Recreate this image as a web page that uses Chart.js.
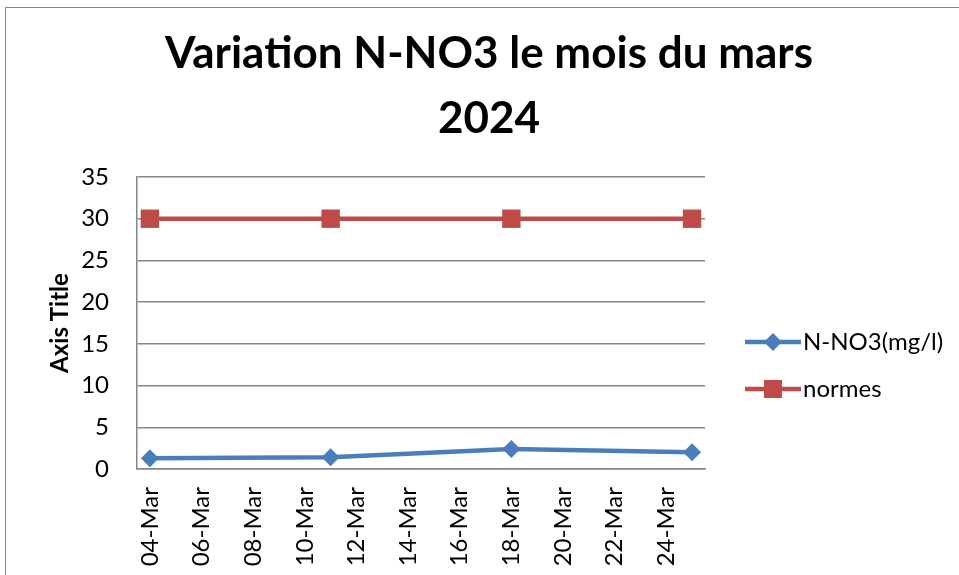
<!DOCTYPE html>
<html>
<head>
<meta charset="utf-8">
<script src="https://cdn.jsdelivr.net/npm/chart.js@4.4.1/dist/chart.umd.min.js"></script>
<style>
    body { margin: 0; background: #fff; }
    #frame { position: absolute; left: 5px; top: 7px; width: 1000px; height: 600px; border: 1px solid #868686; }
    #chart { position: absolute; left: 0; top: 0; }
</style>
</head>
<body>
<div id="frame"></div>
<canvas id="chart" width="959" height="575"></canvas>
<script>
// days of March 2024
const days = [4, 11, 18, 25];
const nno3 = [1.3, 1.4, 2.4, 2.0];
const normes = [30, 30, 30, 30];
const tickDays = [4, 6, 8, 10, 12, 14, 16, 18, 20, 22, 24];
const tickLabels = ['04-Mar', '06-Mar', '08-Mar', '10-Mar', '12-Mar', '14-Mar', '16-Mar', '18-Mar', '20-Mar', '22-Mar', '24-Mar'];
const titleLines = ['Variation N-NO3 le mois du mars', '2024'];

const FONT = 'Lato, "Open Sans", sans-serif';
const GRID = '#868686';

// title centred on the whole picture, as in the Excel chart
const bigTitle = {
    id: 'bigTitle',
    afterDraw(chart) {
        const ctx = chart.ctx;
        ctx.save();
        ctx.fillStyle = '#000';
        ctx.font = 'bold 44px ' + FONT;
        ctx.textAlign = 'center';
        ctx.textBaseline = 'alphabetic';
        ctx.fillText(titleLines[0], 489, 68);
        ctx.fillText(titleLines[1], 489, 133);
        ctx.restore();
    }
};

// legend drawn on the right, line with marker like Excel
const sideLegend = {
    id: 'sideLegend',
    afterDraw(chart) {
        const ctx = chart.ctx;
        const x0 = 745, len = 56;
        const ys = [342, 389];
        chart.data.datasets.forEach((ds, i) => {
            const y = ys[i];
            ctx.save();
            ctx.strokeStyle = ds.borderColor;
            ctx.fillStyle = ds.borderColor;
            ctx.lineWidth = ds.borderWidth;
            ctx.beginPath();
            ctx.moveTo(x0, y);
            ctx.lineTo(x0 + len, y);
            ctx.stroke();
            const cx = x0 + len / 2;
            ctx.beginPath();
            if (ds.pointStyle === 'rect') {
                ctx.rect(cx - 9, y - 9, 18, 18);
            } else {
                ctx.moveTo(cx - 9, y);
                ctx.lineTo(cx, y - 9);
                ctx.lineTo(cx + 9, y);
                ctx.lineTo(cx, y + 9);
                ctx.closePath();
            }
            ctx.fill();
            ctx.fillStyle = '#000';
            ctx.font = '24px ' + FONT;
            ctx.textBaseline = 'middle';
            ctx.fillText(ds.label, x0 + len + 2, y);
            ctx.restore();
        });
    }
};

new Chart(document.getElementById('chart'), {
    type: 'line',
    data: {
        datasets: [
            {
                label: 'N-NO3(mg/l)',
                data: days.map((d, i) => ({ x: d, y: nno3[i] })),
                borderColor: '#4a7ebb',
                backgroundColor: '#4a7ebb',
                borderWidth: 4.5,
                pointStyle: 'rectRot',
                pointRadius: 9,
                pointHoverRadius: 9,
                pointBorderWidth: 0
            },
            {
                label: 'normes',
                data: days.map((d, i) => ({ x: d, y: normes[i] })),
                borderColor: '#be4b48',
                backgroundColor: '#be4b48',
                borderWidth: 4.5,
                pointStyle: 'rect',
                pointRadius: 13,
                pointHoverRadius: 13,
                pointBorderWidth: 0
            }
        ]
    },
    options: {
        responsive: false,
        animation: false,
        layout: { padding: { left: 46, right: 254, top: 177, bottom: 0 } },
        plugins: {
            legend: { display: false },
            tooltip: { enabled: false },
            title: { display: false }
        },
        scales: {
            x: {
                type: 'linear',
                min: 3.5,
                max: 25.5,
                afterBuildTicks: (scale) => {
                    scale.ticks = tickDays.map(v => ({ value: v }));
                },
                afterFit: (scale) => { scale.height = 106; },
                ticks: {
                    color: '#000',
                    font: { family: FONT, size: 24 },
                    minRotation: 90,
                    maxRotation: 90,
                    autoSkip: false,
                    padding: 10,
                    callback: (v) => tickLabels[tickDays.indexOf(v)]
                },
                grid: { display: false },
                border: { display: true, color: GRID, width: 1.5 }
            },
            y: {
                min: 0,
                max: 35,
                afterFit: (scale) => { scale.width = 137 - 46; },
                ticks: {
                    stepSize: 5,
                    color: '#000',
                    font: { family: FONT, size: 24 },
                    padding: 28
                },
                grid: { color: GRID, lineWidth: 1.5, drawTicks: false },
                border: { display: true, color: GRID, width: 1.5 },
                title: {
                    display: true,
                    text: 'Axis Title',
                    color: '#000',
                    font: { family: FONT, size: 24, weight: 'bold' },
                    padding: { top: 0, bottom: 10 }
                }
            }
        }
    },
    plugins: [bigTitle, sideLegend]
});
</script>
</body>
</html>
